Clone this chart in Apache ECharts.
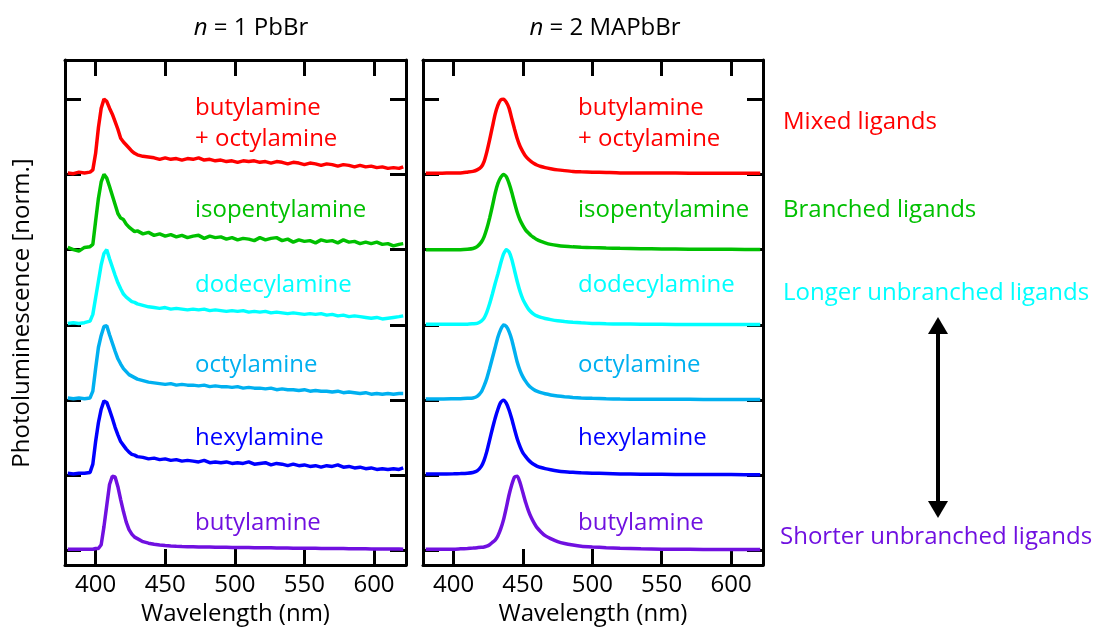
<!DOCTYPE html>
<html>
<head>
<meta charset="utf-8">
<script src="https://cdn.jsdelivr.net/npm/echarts@6/dist/echarts.min.js"></script>
<style>
  html, body { margin: 0; padding: 0; background: #ffffff; }
  #chart { width: 1099px; height: 631px; }
</style>
</head>
<body>
<div id="chart"></div>
<script>
// ---- n = 1 PbBr spectra (normalised PL, one array per ligand) ----
const WL_N1 = [380, 384, 388, 392, 396, 398, 400, 402, 404, 406, 408, 410, 412, 414, 416, 418, 420, 422, 424, 426, 428, 430,
  434, 438, 442, 446, 450, 454, 458, 462, 466, 470, 474, 478, 482, 486, 490, 494, 498, 502, 506, 510, 514, 518, 522, 526,
  530, 534, 538, 542, 546, 550, 554, 558, 562, 566, 570, 574, 578, 582, 586, 590, 594, 598, 602, 606, 610, 614, 618, 621];

const N1_MIXED = [0.02, 0.01, 0.03, 0.02, 0.03, 0.06, 0.28, 0.62, 0.88, 1.0, 0.97, 0.88, 0.80, 0.70, 0.60, 0.48, 0.43, 0.39, 0.35, 0.31, 0.28, 0.26,
  0.24, 0.23, 0.22, 0.20, 0.22, 0.20, 0.21, 0.19, 0.21, 0.20, 0.22, 0.19, 0.20, 0.18, 0.19, 0.17, 0.18, 0.16, 0.18, 0.17, 0.18, 0.16, 0.17, 0.15,
  0.17, 0.16, 0.14, 0.16, 0.15, 0.13, 0.15, 0.14, 0.12, 0.14, 0.13, 0.11, 0.13, 0.12, 0.10, 0.12, 0.10, 0.11, 0.09, 0.10, 0.08, 0.09, 0.08, 0.10];

const N1_ISOPENTYL = [0.03, 0.00, -0.02, 0.03, 0.04, 0.07, 0.38, 0.68, 0.90, 1.0, 0.95, 0.84, 0.72, 0.60, 0.48, 0.42, 0.40, 0.34, 0.30, 0.27, 0.24, 0.25,
  0.21, 0.23, 0.19, 0.21, 0.18, 0.20, 0.17, 0.19, 0.16, 0.18, 0.19, 0.15, 0.18, 0.16, 0.17, 0.14, 0.16, 0.13, 0.15, 0.14, 0.12, 0.16, 0.13, 0.15,
  0.16, 0.12, 0.14, 0.10, 0.13, 0.11, 0.12, 0.09, 0.13, 0.11, 0.12, 0.09, 0.13, 0.10, 0.11, 0.08, 0.10, 0.08, 0.10, 0.07, 0.08, 0.05, 0.07, 0.08];

const N1_DODECYL = [0.02, 0.03, 0.02, 0.03, 0.05, 0.14, 0.36, 0.58, 0.80, 0.95, 1.0, 0.88, 0.77, 0.66, 0.56, 0.48, 0.41, 0.37, 0.34, 0.31, 0.30, 0.28,
  0.26, 0.24, 0.23, 0.22, 0.23, 0.21, 0.22, 0.21, 0.20, 0.21, 0.20, 0.21, 0.19, 0.20, 0.19, 0.18, 0.19, 0.18, 0.19, 0.17, 0.18, 0.17, 0.18, 0.16,
  0.17, 0.16, 0.15, 0.16, 0.15, 0.14, 0.15, 0.14, 0.15, 0.13, 0.14, 0.12, 0.13, 0.11, 0.12, 0.11, 0.10, 0.09, 0.10, 0.08, 0.09, 0.10, 0.11, 0.12];

const N1_OCTYL = [0.03, 0.02, 0.03, 0.02, 0.03, 0.12, 0.42, 0.70, 0.86, 0.98, 0.99, 0.87, 0.76, 0.65, 0.55, 0.48, 0.42, 0.38, 0.34, 0.32, 0.30, 0.28,
  0.26, 0.24, 0.23, 0.22, 0.21, 0.22, 0.20, 0.21, 0.20, 0.20, 0.19, 0.20, 0.18, 0.19, 0.18, 0.18, 0.17, 0.18, 0.16, 0.17, 0.16, 0.16, 0.15, 0.16,
  0.14, 0.15, 0.14, 0.14, 0.13, 0.14, 0.12, 0.13, 0.12, 0.12, 0.11, 0.12, 0.10, 0.11, 0.10, 0.09, 0.10, 0.08, 0.09, 0.08, 0.09, 0.08, 0.09, 0.09];

const N1_HEXYL = [0.03, 0.02, 0.03, 0.03, 0.04, 0.15, 0.45, 0.70, 0.88, 0.99, 0.97, 0.87, 0.76, 0.64, 0.54, 0.45, 0.40, 0.35, 0.31, 0.28, 0.27, 0.25,
  0.24, 0.22, 0.23, 0.21, 0.22, 0.20, 0.21, 0.19, 0.20, 0.19, 0.18, 0.20, 0.17, 0.18, 0.17, 0.18, 0.16, 0.17, 0.16, 0.18, 0.15, 0.16, 0.17, 0.14,
  0.16, 0.15, 0.13, 0.15, 0.13, 0.14, 0.12, 0.13, 0.11, 0.13, 0.12, 0.14, 0.11, 0.12, 0.10, 0.11, 0.09, 0.10, 0.08, 0.09, 0.08, 0.09, 0.08, 0.10];

const N1_BUTYL = [0.02, 0.02, 0.02, 0.02, 0.02, 0.02, 0.03, 0.03, 0.08, 0.32, 0.60, 0.88, 0.99, 0.98, 0.85, 0.68, 0.52, 0.38, 0.28, 0.22, 0.18, 0.16,
  0.12, 0.10, 0.085, 0.075, 0.068, 0.062, 0.058, 0.055, 0.053, 0.052, 0.05, 0.05, 0.049, 0.047, 0.046, 0.045, 0.044, 0.043, 0.042, 0.041, 0.04, 0.04, 0.039, 0.038,
  0.037, 0.036, 0.035, 0.034, 0.033, 0.032, 0.032, 0.031, 0.03, 0.03, 0.029, 0.028, 0.028, 0.027, 0.026, 0.026, 0.025, 0.024, 0.024, 0.023, 0.022, 0.022, 0.021, 0.02];

// ---- n = 2 MAPbBr spectra ----
const WL_N2 = [380, 390, 400, 405, 410, 414, 417, 420, 422, 424, 426, 428, 430, 432, 434, 436, 438, 440, 442, 444, 446, 448,
  450, 452, 454, 456, 458, 460, 463, 466, 470, 475, 480, 486, 492, 500, 510, 520, 535, 550, 570, 590, 610, 621];

const N2_MIXED = [0.015, 0.015, 0.02, 0.02, 0.03, 0.04, 0.06, 0.10, 0.17, 0.30, 0.46, 0.63, 0.80, 0.92, 0.99, 1.0, 0.96, 0.88, 0.74, 0.60, 0.47, 0.37,
  0.30, 0.24, 0.20, 0.17, 0.145, 0.125, 0.105, 0.09, 0.075, 0.06, 0.05, 0.04, 0.035, 0.03, 0.025, 0.02, 0.02, 0.018, 0.016, 0.015, 0.015, 0.015];

const N2_ISOPENTYL = [0.0, 0.0, 0.0, 0.0, 0.005, 0.015, 0.04, 0.10, 0.17, 0.28, 0.42, 0.58, 0.75, 0.88, 0.96, 1.0, 0.97, 0.88, 0.76, 0.62, 0.49, 0.39,
  0.32, 0.26, 0.22, 0.185, 0.16, 0.135, 0.11, 0.09, 0.07, 0.055, 0.045, 0.037, 0.032, 0.027, 0.022, 0.018, 0.013, 0.01, 0.007, 0.005, 0.003, 0.002];

const N2_DODECYL = [0.01, 0.01, 0.01, 0.01, 0.01, 0.015, 0.02, 0.05, 0.09, 0.17, 0.28, 0.41, 0.55, 0.68, 0.82, 0.94, 1.0, 0.97, 0.87, 0.72, 0.57, 0.44,
  0.34, 0.27, 0.21, 0.17, 0.14, 0.12, 0.10, 0.085, 0.07, 0.055, 0.045, 0.035, 0.028, 0.02, 0.015, 0.012, 0.01, 0.008, 0.006, 0.005, 0.004, 0.004];

const N2_OCTYL = [0.015, 0.015, 0.018, 0.02, 0.025, 0.03, 0.05, 0.11, 0.19, 0.29, 0.42, 0.56, 0.70, 0.84, 0.94, 1.0, 0.98, 0.91, 0.80, 0.65, 0.50, 0.39,
  0.31, 0.25, 0.20, 0.165, 0.14, 0.12, 0.10, 0.085, 0.07, 0.056, 0.046, 0.037, 0.03, 0.024, 0.019, 0.015, 0.013, 0.012, 0.011, 0.01, 0.01, 0.01];

const N2_HEXYL = [0.02, 0.02, 0.022, 0.025, 0.03, 0.04, 0.06, 0.12, 0.20, 0.32, 0.47, 0.62, 0.76, 0.88, 0.97, 1.0, 0.96, 0.87, 0.75, 0.61, 0.48, 0.38,
  0.30, 0.25, 0.205, 0.17, 0.145, 0.125, 0.105, 0.09, 0.075, 0.06, 0.05, 0.042, 0.035, 0.03, 0.025, 0.02, 0.017, 0.015, 0.013, 0.012, 0.01, 0.01];

const N2_BUTYL = [0.02, 0.02, 0.02, 0.025, 0.03, 0.035, 0.04, 0.045, 0.05, 0.06, 0.08, 0.11, 0.14, 0.20, 0.29, 0.41, 0.57, 0.74, 0.88, 0.98, 0.99, 0.90,
  0.77, 0.64, 0.53, 0.44, 0.37, 0.31, 0.25, 0.20, 0.16, 0.12, 0.095, 0.075, 0.06, 0.05, 0.04, 0.033, 0.025, 0.02, 0.018, 0.016, 0.015, 0.015];

// ---- shared categories, offsets, ticks and text ----
const LIGANDS = ['butylamine + octylamine', 'isopentylamine', 'dodecylamine', 'octylamine', 'hexylamine', 'butylamine'];
const OFFSETS = [5, 4, 3, 2, 1, 0];
const COLORS = ['#ff0000', '#00c000', '#00ffff', '#00b0f0', '#0000ff', '#7010e0'];
const X_TICKS = [400, 450, 500, 550, 600];
const Y_TICKS = [0, 1, 2, 3, 4, 5, 6];
const GROUPS = ['Mixed ligands', 'Branched ligands', 'Longer unbranched ligands', 'Shorter unbranched ligands'];
const GROUP_COLORS = ['#ff0000', '#00c000', '#00ffff', '#7010e0'];

const N1_SPECTRA = [N1_MIXED, N1_ISOPENTYL, N1_DODECYL, N1_OCTYL, N1_HEXYL, N1_BUTYL];
const N2_SPECTRA = [N2_MIXED, N2_ISOPENTYL, N2_DODECYL, N2_OCTYL, N2_HEXYL, N2_BUTYL];

const FONT = '"Open Sans", "Noto Sans", sans-serif';
const chart = echarts.init(document.getElementById('chart'), null, { renderer: 'canvas' });

const axisLineStyle = { onZero: false, lineStyle: { color: '#000', width: 3 } };
const tickStyle = { inside: true, length: 16, lineStyle: { color: '#000', width: 3 } };

function xAxes(gridIndex) {
  return [
    {
      type: 'value', gridIndex, position: 'bottom', min: 378, max: 623,
      axisLine: axisLineStyle,
      axisTick: Object.assign({ customValues: X_TICKS }, tickStyle),
      axisLabel: { customValues: X_TICKS, color: '#000', fontSize: 24, fontFamily: FONT, margin: 8 },
      splitLine: { show: false },
      name: 'Wavelength (nm)', nameLocation: 'middle', nameGap: 35,
      nameTextStyle: { color: '#000', fontSize: 24, fontFamily: FONT }
    },
    {
      type: 'value', gridIndex, position: 'top', min: 378, max: 623,
      axisLine: axisLineStyle,
      axisTick: Object.assign({ customValues: X_TICKS }, tickStyle),
      axisLabel: { show: false },
      splitLine: { show: false }
    }
  ];
}

function yAxes(gridIndex) {
  return ['left', 'right'].map(pos => ({
    type: 'value', gridIndex, position: pos, min: -0.19, max: 6.52,
    axisLine: axisLineStyle,
    axisTick: Object.assign({ customValues: Y_TICKS }, tickStyle),
    axisLabel: { show: false },
    splitLine: { show: false }
  }));
}

function panelSeries(wl, spectra, axisBase, smooth) {
  return spectra.map((vals, k) => ({
    type: 'line',
    name: LIGANDS[k],
    xAxisIndex: axisBase,
    yAxisIndex: axisBase,
    data: wl.map((w, i) => [w, vals[i] + OFFSETS[k]]),
    showSymbol: false,
    smooth: smooth,
    lineStyle: { color: COLORS[k], width: 3.5 },
    z: 3
  }));
}

// sample names inside the panels
function sampleLabels(left) {
  const ys = [108, 210, 285, 365, 438, 523];
  const out = [];
  LIGANDS.forEach((name, k) => {
    if (k === 0) {
      out.push({ type: 'text', left, top: ys[0] - 12, z: 10,
        style: { text: 'butylamine', fill: COLORS[0], font: '24px ' + FONT } });
      out.push({ type: 'text', left, top: ys[0] + 19, z: 10,
        style: { text: '+ octylamine', fill: COLORS[0], font: '24px ' + FONT } });
    } else {
      out.push({ type: 'text', left, top: ys[k] - 12, z: 10,
        style: { text: name, fill: COLORS[k], font: '24px ' + FONT } });
    }
  });
  return out;
}

const groupYs = [122, 210, 293, 537];
const groupText = GROUPS.map((g, i) => ({
  type: 'text', left: i === 3 ? 780 : 783, top: groupYs[i] - 12, z: 10,
  style: { text: g, fill: GROUP_COLORS[i], font: '24px ' + FONT }
}));

const option = {
  animation: false,
  backgroundColor: '#ffffff',
  title: [
    { text: '{i|n} = 1 PbBr', left: 246, top: 11, textAlign: 'center',
      textStyle: { color: '#000', fontSize: 24, fontWeight: 'normal', fontFamily: FONT,
        rich: { i: { fontStyle: 'italic', fontSize: 24, fontFamily: FONT, color: '#000' } } } },
    { text: '{i|n} = 2 MAPbBr', left: 600, top: 11, textAlign: 'center',
      textStyle: { color: '#000', fontSize: 24, fontWeight: 'normal', fontFamily: FONT,
        rich: { i: { fontStyle: 'italic', fontSize: 24, fontFamily: FONT, color: '#000' } } } }
  ],
  grid: [
    { left: 65, top: 60, width: 341, height: 505, containLabel: false, outerBoundsMode: 'none' },
    { left: 423, top: 60, width: 340, height: 505, containLabel: false, outerBoundsMode: 'none' }
  ],
  xAxis: [...xAxes(0), ...xAxes(1)],
  yAxis: [...yAxes(0), ...yAxes(1)],
  series: [
    ...panelSeries(WL_N1, N1_SPECTRA, 0, false),
    ...panelSeries(WL_N2, N2_SPECTRA, 2, 0.2)
  ],
  graphic: [
    { type: 'text', x: 22, y: 313, rotation: Math.PI / 2, z: 10,
      style: { text: 'Photoluminescence [norm.]', fill: '#000', font: '24px ' + FONT,
        textAlign: 'center', textVerticalAlign: 'middle' } },
    ...sampleLabels(195),
    ...sampleLabels(578),
    ...groupText,
    // double-headed arrow between the ligand-length labels
    { type: 'line', z: 10, shape: { x1: 938, y1: 332, x2: 938, y2: 503 },
      style: { stroke: '#000', lineWidth: 4 } },
    { type: 'polygon', z: 10, shape: { points: [[938, 317], [928, 334], [948, 334]] },
      style: { fill: '#000' } },
    { type: 'polygon', z: 10, shape: { points: [[938, 518], [928, 501], [948, 501]] },
      style: { fill: '#000' } }
  ]
};

chart.setOption(option);
</script>
</body>
</html>
